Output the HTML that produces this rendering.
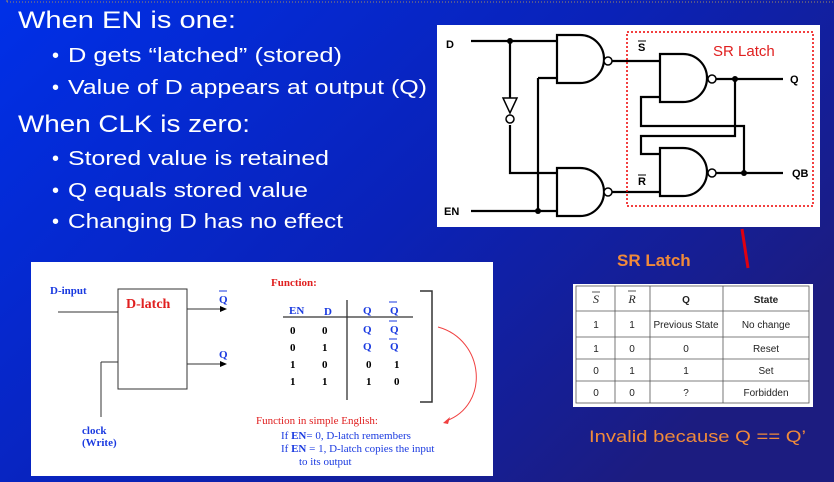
<!DOCTYPE html>
<html><head><meta charset="utf-8"><style>
html,body{margin:0;padding:0;width:834px;height:482px;overflow:hidden}
svg{display:block}
</style></head><body>
<svg width="834" height="482" viewBox="0 0 834 482" xmlns="http://www.w3.org/2000/svg" font-family="Liberation Sans, sans-serif">
<defs>
<linearGradient id="bg" x1="0" y1="0" x2="1" y2="0.6">
<stop offset="0" stop-color="#0030e8"/><stop offset="0.55" stop-color="#0a22b8"/><stop offset="1" stop-color="#1c1c80"/>
</linearGradient>
</defs>
<rect width="834" height="482" fill="url(#bg)"/>
<line x1="7" y1="2" x2="834" y2="2" stroke="#a08a60" stroke-dasharray="1,2" stroke-width="1"/>
<line x1="7" y1="0" x2="7" y2="2" stroke="#a08a60"/>

<g fill="#fff">
<text x="18" y="28" font-size="24" textLength="218" lengthAdjust="spacingAndGlyphs">When EN is one:</text>
<text x="52" y="62" font-size="20">•</text><text x="68" y="62" font-size="20" textLength="274" lengthAdjust="spacingAndGlyphs">D gets “latched” (stored)</text>
<text x="52" y="94" font-size="20">•</text><text x="68" y="94" font-size="20" textLength="359" lengthAdjust="spacingAndGlyphs">Value of D appears at output (Q)</text>
<text x="18" y="132" font-size="24" textLength="232" lengthAdjust="spacingAndGlyphs">When CLK is zero:</text>
<text x="52" y="165" font-size="20">•</text><text x="68" y="165" font-size="20" textLength="261" lengthAdjust="spacingAndGlyphs">Stored value is retained</text>
<text x="52" y="197" font-size="20">•</text><text x="68" y="197" font-size="20" textLength="240" lengthAdjust="spacingAndGlyphs">Q equals stored value</text>
<text x="52" y="228" font-size="20">•</text><text x="68" y="228" font-size="20" textLength="275" lengthAdjust="spacingAndGlyphs">Changing D has no effect</text>
</g>

<!-- circuit panel -->
<rect x="437" y="25" width="383" height="202" fill="#fff"/>
<g stroke="#000" stroke-width="2.2" fill="none">
<path d="M471 41H557M510 41V98M510 125V173H557M538 78H557M538 78V211M471 211H557"/>
<path d="M503 98H517L510 113Z" stroke-width="1.5"/>
<circle cx="510" cy="119" r="4" fill="#fff" stroke-width="1.5"/>
<path d="M557 35H580A24 24 0 0 1 580 83H557Z" fill="#fff"/>
<path d="M557 168H580A24 24 0 0 1 580 216H557Z" fill="#fff"/>
<circle cx="608" cy="61" r="4" fill="#fff" stroke-width="1.5"/>
<circle cx="608" cy="192" r="4" fill="#fff" stroke-width="1.5"/>
<path d="M612 61H660M612 192H660"/>
<path d="M660 54H683A24 24 0 0 1 683 102H660Z" fill="#fff"/>
<path d="M660 148H683A24 24 0 0 1 683 196H660Z" fill="#fff"/>
<circle cx="712" cy="79" r="4" fill="#fff" stroke-width="1.5"/>
<circle cx="712" cy="173" r="4" fill="#fff" stroke-width="1.5"/>
<path d="M716 79H783M716 173H783M735 79V136H641V154H660M744 173V126H641V97H660"/>
</g>
<g fill="#000"><circle cx="510" cy="41" r="3"/><circle cx="538" cy="211" r="3"/><circle cx="735" cy="79" r="3"/><circle cx="744" cy="173" r="3"/></g>
<g font-weight="bold" font-size="11" fill="#000">
<text x="446" y="48">D</text><text x="444" y="215">EN</text>
<text x="790" y="83">Q</text><text x="792" y="177">QB</text>
<text x="638" y="51">S</text><text x="638" y="185">R</text>
</g>
<path d="M638 41H646M638 175H646" stroke="#000" stroke-width="1"/>
<rect x="627" y="32" width="186" height="174" fill="none" stroke="#e00" stroke-width="1.5" stroke-dasharray="2,2"/>
<text x="713" y="56" font-size="15" fill="#e02020">SR Latch</text>
<path d="M742 229L748 268" stroke="#e00010" stroke-width="3"/>

<!-- lower left panel -->
<rect x="31" y="262" width="462" height="214" fill="#fff"/>
<g font-family="Liberation Serif, serif" font-weight="bold">
<text x="50" y="294" font-size="11" fill="#1a3ae0">D-input</text>
<text x="126" y="308" font-size="14" fill="#e02020">D-latch</text>
<text x="219" y="303" font-size="11" fill="#1a3ae0">Q</text>
<text x="219" y="358" font-size="11" fill="#1a3ae0">Q</text>
<text x="82" y="434" font-size="11" fill="#1a3ae0">clock</text>
<text x="82" y="446" font-size="11" fill="#1a3ae0">(Write)</text>
<text x="271" y="286" font-size="11" fill="#e02020">Function:</text>
<g font-size="11" fill="#1a3ae0"><text x="289" y="314">EN</text><text x="324" y="315">D</text><text x="363" y="314">Q</text><text x="390" y="314">Q</text>
<text x="363" y="333">Q</text><text x="390" y="333">Q</text><text x="363" y="350">Q</text><text x="390" y="350">Q</text></g>
<g font-size="11" fill="#000"><text x="290" y="334">0</text><text x="322" y="334">0</text><text x="290" y="351">0</text><text x="322" y="351">1</text>
<text x="290" y="368">1</text><text x="322" y="368">0</text><text x="366" y="368">0</text><text x="394" y="368">1</text>
<text x="290" y="385">1</text><text x="322" y="385">1</text><text x="366" y="385">1</text><text x="394" y="385">0</text></g>
</g>
<path d="M219 291H227M389 302H397M389 321H397M389 339H397" stroke="#1a3ae0" stroke-width="1"/>
<g stroke="#333" fill="none" stroke-width="1">
<rect x="118" y="289" width="69" height="100"/>
<path d="M58 312H118M187 309H222M187 364H222M101 362H118M101 362V417"/>
<path d="M283 317H413" stroke-width="1.3"/><path d="M347 300V400" stroke-width="1.3"/>
<path d="M420 291H432V402H420" stroke-width="1.5"/>
</g>
<path d="M220 306L227 309L220 312Z M220 361L227 364L220 367Z" fill="#000"/>
<path d="M438 327C485 340 490 405 446 421" stroke="#f04040" fill="none" stroke-width="1"/>
<path d="M443 423L450 417L448 424Z" fill="#f04040"/>
<g font-family="Liberation Serif, serif" font-size="11">
<text x="256" y="424" fill="#e02020">Function in simple English:</text>
<text x="281" y="439" fill="#1a3ae0">If <tspan font-weight="bold">EN</tspan>= 0, D-latch remembers</text>
<text x="281" y="452" fill="#1a3ae0">If <tspan font-weight="bold">EN</tspan> = 1, D-latch copies the input</text>
<text x="299" y="465" fill="#1a3ae0">to its output</text>
</g>

<!-- SR table -->
<text x="617" y="266" font-size="17" font-weight="bold" fill="#f08a3a">SR Latch</text>
<rect x="573" y="284" width="240" height="123" fill="#fff"/>
<g stroke="#555" stroke-width="0.8" fill="none">
<rect x="576" y="286" width="233" height="117"/>
<path d="M615 286V403M650 286V403M723 286V403M576 311H809M576 337H809M576 359H809M576 381H809"/>
</g>
<g font-size="10" fill="#222" text-anchor="middle">
<text x="596" y="303" font-style="italic" font-family="Liberation Serif, serif" font-size="12">S</text>
<text x="632" y="303" font-style="italic" font-family="Liberation Serif, serif" font-size="12">R</text>
<text x="686" y="303" font-weight="bold">Q</text><text x="766" y="303" font-weight="bold">State</text>
<text x="596" y="328">1</text><text x="632" y="328">1</text><text x="686" y="328">Previous State</text><text x="766" y="328">No change</text>
<text x="596" y="352">1</text><text x="632" y="352">0</text><text x="686" y="352">0</text><text x="766" y="352">Reset</text>
<text x="596" y="374">0</text><text x="632" y="374">1</text><text x="686" y="374">1</text><text x="766" y="374">Set</text>
<text x="596" y="396">0</text><text x="632" y="396">0</text><text x="686" y="396">?</text><text x="766" y="396">Forbidden</text>
</g>
<path d="M592 292H600M628 291H636" stroke="#222" stroke-width="0.8"/>
<text x="589" y="442" font-size="17" fill="#f08a3a" textLength="217" lengthAdjust="spacingAndGlyphs">Invalid because Q == Q’</text>
</svg>
</body></html>
